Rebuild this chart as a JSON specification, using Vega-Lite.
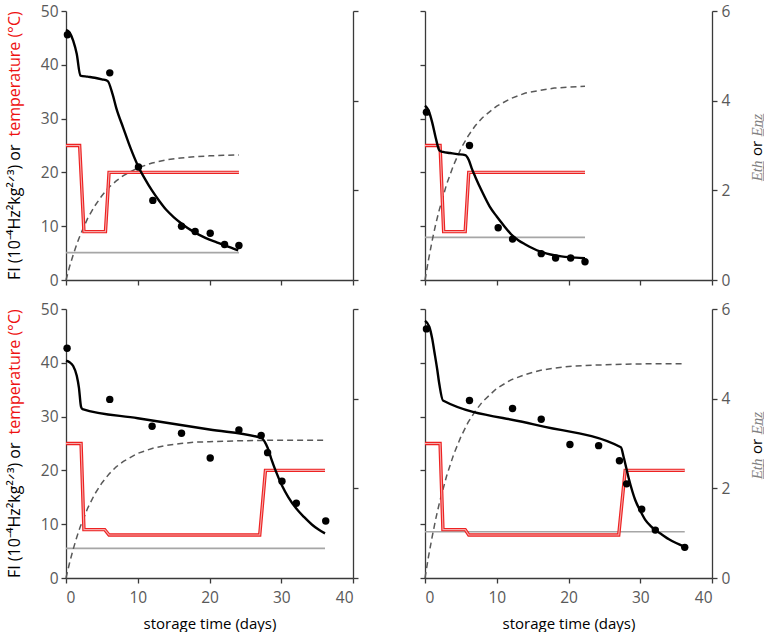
{
"$schema": "https://vega.github.io/schema/vega-lite/v6.json",
"padding": {"left": 5, "top": 4, "right": 0, "bottom": 0},
"config": {
  "font": "Open Sans",
  "view": {"stroke": null},
  "axis": {"grid": false, "domainColor": "#3a3a3a", "tickColor": "#3a3a3a", "domainWidth": 1.3, "tickWidth": 1.3, "tickSize": 5, "labelColor": "#595959", "labelFontSize": 15.5, "labelFont": "Open Sans", "titleFont": "Open Sans", "titleFontWeight": "normal", "titleColor": "#000000", "titleFontSize": 15}
},
"data": {"values": [
{"p":"A","s":"fi","d":0,"v":46.5},{"p":"A","s":"fi","d":0.5,"v":46},{"p":"A","s":"fi","d":1,"v":44.5},{"p":"A","s":"fi","d":1.5,"v":42},{"p":"A","s":"fi","d":2,"v":38},{"p":"A","s":"fi","d":3,"v":37.8},{"p":"A","s":"fi","d":4,"v":37.6},{"p":"A","s":"fi","d":5,"v":37.3},{"p":"A","s":"fi","d":5.8,"v":37},{"p":"A","s":"fi","d":6.5,"v":34.5},{"p":"A","s":"fi","d":7,"v":32},{"p":"A","s":"fi","d":8,"v":28.2},{"p":"A","s":"fi","d":9,"v":24.5},{"p":"A","s":"fi","d":10,"v":21.3},{"p":"A","s":"fi","d":11,"v":18.8},{"p":"A","s":"fi","d":12,"v":16.6},{"p":"A","s":"fi","d":13,"v":14.7},{"p":"A","s":"fi","d":14,"v":13},{"p":"A","s":"fi","d":15,"v":11.7},{"p":"A","s":"fi","d":16,"v":10.6},{"p":"A","s":"fi","d":17,"v":9.6},{"p":"A","s":"fi","d":18,"v":8.8},{"p":"A","s":"fi","d":19,"v":8.1},{"p":"A","s":"fi","d":20,"v":7.5},{"p":"A","s":"fi","d":21,"v":7},{"p":"A","s":"fi","d":22,"v":6.5},{"p":"A","s":"fi","d":23,"v":6},{"p":"A","s":"fi","d":24,"v":5.5},
{"p":"A","s":"obs","d":0.2,"v":45.6},{"p":"A","s":"obs","d":6.1,"v":38.5},{"p":"A","s":"obs","d":10.1,"v":21},{"p":"A","s":"obs","d":12.1,"v":14.8},{"p":"A","s":"obs","d":16.1,"v":10},{"p":"A","s":"obs","d":18,"v":9},{"p":"A","s":"obs","d":20.1,"v":8.7},{"p":"A","s":"obs","d":22.1,"v":6.6},{"p":"A","s":"obs","d":24.1,"v":6.4},
{"p":"A","s":"temp","d":0,"v":25},{"p":"A","s":"temp","d":1.9,"v":25},{"p":"A","s":"temp","d":2.5,"v":9},{"p":"A","s":"temp","d":5.5,"v":9},{"p":"A","s":"temp","d":6,"v":20},{"p":"A","s":"temp","d":24.1,"v":20},
{"p":"A","s":"eth","d":0,"v":0.61},{"p":"A","s":"eth","d":24.1,"v":0.61},
{"p":"A","s":"enz","d":0,"v":0},{"p":"A","s":"enz","d":0.5,"v":0.3},{"p":"A","s":"enz","d":1,"v":0.56},{"p":"A","s":"enz","d":1.5,"v":0.8},{"p":"A","s":"enz","d":2,"v":1.01},{"p":"A","s":"enz","d":3,"v":1.37},{"p":"A","s":"enz","d":4,"v":1.65},{"p":"A","s":"enz","d":5,"v":1.88},{"p":"A","s":"enz","d":6,"v":2.07},{"p":"A","s":"enz","d":7,"v":2.21},{"p":"A","s":"enz","d":8,"v":2.33},{"p":"A","s":"enz","d":10,"v":2.5},{"p":"A","s":"enz","d":12,"v":2.61},{"p":"A","s":"enz","d":14,"v":2.68},{"p":"A","s":"enz","d":16,"v":2.72},{"p":"A","s":"enz","d":18,"v":2.75},{"p":"A","s":"enz","d":20,"v":2.77},{"p":"A","s":"enz","d":22,"v":2.78},{"p":"A","s":"enz","d":24.1,"v":2.79},
{"p":"B","s":"fi","d":0,"v":32.4},{"p":"B","s":"fi","d":0.5,"v":31.5},{"p":"B","s":"fi","d":1,"v":29.3},{"p":"B","s":"fi","d":1.5,"v":26.4},{"p":"B","s":"fi","d":2,"v":24.1},{"p":"B","s":"fi","d":2.5,"v":23.8},{"p":"B","s":"fi","d":3.5,"v":23.6},{"p":"B","s":"fi","d":4.5,"v":23.4},{"p":"B","s":"fi","d":5.6,"v":23.2},{"p":"B","s":"fi","d":6.1,"v":22.3},{"p":"B","s":"fi","d":6.5,"v":20.8},{"p":"B","s":"fi","d":7,"v":19.2},{"p":"B","s":"fi","d":8,"v":16.3},{"p":"B","s":"fi","d":9,"v":13.7},{"p":"B","s":"fi","d":10,"v":11.8},{"p":"B","s":"fi","d":11,"v":10.1},{"p":"B","s":"fi","d":12,"v":8.5},{"p":"B","s":"fi","d":13,"v":7.4},{"p":"B","s":"fi","d":14,"v":6.6},{"p":"B","s":"fi","d":15,"v":5.9},{"p":"B","s":"fi","d":16,"v":5.3},{"p":"B","s":"fi","d":17,"v":4.9},{"p":"B","s":"fi","d":18,"v":4.6},{"p":"B","s":"fi","d":19,"v":4.4},{"p":"B","s":"fi","d":20,"v":4.25},{"p":"B","s":"fi","d":21,"v":4.15},{"p":"B","s":"fi","d":22.3,"v":4.05},
{"p":"B","s":"obs","d":0.2,"v":31.2},{"p":"B","s":"obs","d":6.2,"v":25},{"p":"B","s":"obs","d":10.2,"v":9.7},{"p":"B","s":"obs","d":12.2,"v":7.6},{"p":"B","s":"obs","d":16.2,"v":4.9},{"p":"B","s":"obs","d":18.2,"v":4.1},{"p":"B","s":"obs","d":20.3,"v":4.1},{"p":"B","s":"obs","d":22.3,"v":3.4},
{"p":"B","s":"temp","d":0,"v":25},{"p":"B","s":"temp","d":2.1,"v":25},{"p":"B","s":"temp","d":2.6,"v":9},{"p":"B","s":"temp","d":5.6,"v":9},{"p":"B","s":"temp","d":6.1,"v":20},{"p":"B","s":"temp","d":22.3,"v":20},
{"p":"B","s":"eth","d":0,"v":0.95},{"p":"B","s":"eth","d":22.3,"v":0.95},
{"p":"B","s":"enz","d":0,"v":0},{"p":"B","s":"enz","d":0.5,"v":0.46},{"p":"B","s":"enz","d":1,"v":0.88},{"p":"B","s":"enz","d":1.5,"v":1.25},{"p":"B","s":"enz","d":2,"v":1.57},{"p":"B","s":"enz","d":3,"v":2.13},{"p":"B","s":"enz","d":4,"v":2.57},{"p":"B","s":"enz","d":5,"v":2.93},{"p":"B","s":"enz","d":6,"v":3.21},{"p":"B","s":"enz","d":7,"v":3.44},{"p":"B","s":"enz","d":8,"v":3.62},{"p":"B","s":"enz","d":10,"v":3.88},{"p":"B","s":"enz","d":12,"v":4.05},{"p":"B","s":"enz","d":14,"v":4.17},{"p":"B","s":"enz","d":16,"v":4.23},{"p":"B","s":"enz","d":18,"v":4.28},{"p":"B","s":"enz","d":20,"v":4.3},{"p":"B","s":"enz","d":22.3,"v":4.32},
{"p":"C","s":"fi","d":0,"v":40.4},{"p":"C","s":"fi","d":0.5,"v":40.1},{"p":"C","s":"fi","d":1,"v":39.4},{"p":"C","s":"fi","d":1.5,"v":37.6},{"p":"C","s":"fi","d":1.8,"v":35.4},{"p":"C","s":"fi","d":2.1,"v":31.8},{"p":"C","s":"fi","d":2.3,"v":31.4},{"p":"C","s":"fi","d":10,"v":29.7},{"p":"C","s":"fi","d":20,"v":27.6},{"p":"C","s":"fi","d":27.3,"v":26},{"p":"C","s":"fi","d":27.7,"v":25.3},{"p":"C","s":"fi","d":28.1,"v":24.2},{"p":"C","s":"fi","d":28.6,"v":22.2},{"p":"C","s":"fi","d":29.2,"v":20},{"p":"C","s":"fi","d":30.1,"v":17.2},{"p":"C","s":"fi","d":31,"v":15},{"p":"C","s":"fi","d":32.1,"v":12.9},{"p":"C","s":"fi","d":33.2,"v":11.3},{"p":"C","s":"fi","d":34.3,"v":9.9},{"p":"C","s":"fi","d":35.2,"v":9},{"p":"C","s":"fi","d":36.1,"v":8.3},
{"p":"C","s":"obs","d":0.15,"v":42.7},{"p":"C","s":"obs","d":6.1,"v":33.2},{"p":"C","s":"obs","d":12,"v":28.2},{"p":"C","s":"obs","d":16.1,"v":26.9},{"p":"C","s":"obs","d":20.1,"v":22.3},{"p":"C","s":"obs","d":24.1,"v":27.5},{"p":"C","s":"obs","d":27.2,"v":26.5},{"p":"C","s":"obs","d":28.1,"v":23.3},{"p":"C","s":"obs","d":30.1,"v":18},{"p":"C","s":"obs","d":32.1,"v":13.9},{"p":"C","s":"obs","d":36.2,"v":10.6},
{"p":"C","s":"temp","d":0,"v":25},{"p":"C","s":"temp","d":2.1,"v":25},{"p":"C","s":"temp","d":2.5,"v":9},{"p":"C","s":"temp","d":5.4,"v":9},{"p":"C","s":"temp","d":6,"v":8},{"p":"C","s":"temp","d":27,"v":8},{"p":"C","s":"temp","d":27.8,"v":20},{"p":"C","s":"temp","d":36.1,"v":20},
{"p":"C","s":"eth","d":0,"v":0.66},{"p":"C","s":"eth","d":36.1,"v":0.66},
{"p":"C","s":"enz","d":0,"v":0},{"p":"C","s":"enz","d":0.5,"v":0.34},{"p":"C","s":"enz","d":1,"v":0.64},{"p":"C","s":"enz","d":1.5,"v":0.91},{"p":"C","s":"enz","d":2,"v":1.15},{"p":"C","s":"enz","d":3,"v":1.55},{"p":"C","s":"enz","d":4,"v":1.87},{"p":"C","s":"enz","d":5,"v":2.12},{"p":"C","s":"enz","d":6,"v":2.32},{"p":"C","s":"enz","d":7,"v":2.48},{"p":"C","s":"enz","d":8,"v":2.6},{"p":"C","s":"enz","d":10,"v":2.78},{"p":"C","s":"enz","d":12,"v":2.89},{"p":"C","s":"enz","d":14,"v":2.96},{"p":"C","s":"enz","d":16,"v":3},{"p":"C","s":"enz","d":18,"v":3.03},{"p":"C","s":"enz","d":20,"v":3.04},{"p":"C","s":"enz","d":24,"v":3.06},{"p":"C","s":"enz","d":28,"v":3.07},{"p":"C","s":"enz","d":36.1,"v":3.07},
{"p":"D","s":"fi","d":0,"v":47.8},{"p":"D","s":"fi","d":0.6,"v":46.7},{"p":"D","s":"fi","d":1,"v":44.5},{"p":"D","s":"fi","d":1.3,"v":42.1},{"p":"D","s":"fi","d":1.7,"v":38.8},{"p":"D","s":"fi","d":2,"v":36},{"p":"D","s":"fi","d":2.5,"v":33},{"p":"D","s":"fi","d":15,"v":28.6},{"p":"D","s":"fi","d":27.3,"v":24.3},{"p":"D","s":"fi","d":27.7,"v":22.4},{"p":"D","s":"fi","d":28.4,"v":18.5},{"p":"D","s":"fi","d":29.3,"v":14.5},{"p":"D","s":"fi","d":30,"v":12.5},{"p":"D","s":"fi","d":30.7,"v":10.8},{"p":"D","s":"fi","d":31.5,"v":9.6},{"p":"D","s":"fi","d":32.1,"v":8.9},{"p":"D","s":"fi","d":33,"v":8.1},{"p":"D","s":"fi","d":34,"v":7.2},{"p":"D","s":"fi","d":35,"v":6.5},{"p":"D","s":"fi","d":36.2,"v":5.8},
{"p":"D","s":"obs","d":0.2,"v":46.3},{"p":"D","s":"obs","d":6.2,"v":33},{"p":"D","s":"obs","d":12.2,"v":31.5},{"p":"D","s":"obs","d":16.2,"v":29.5},{"p":"D","s":"obs","d":20.2,"v":24.8},{"p":"D","s":"obs","d":24.2,"v":24.6},{"p":"D","s":"obs","d":27.1,"v":21.8},{"p":"D","s":"obs","d":28.1,"v":17.5},{"p":"D","s":"obs","d":30.2,"v":12.8},{"p":"D","s":"obs","d":32.1,"v":8.9},{"p":"D","s":"obs","d":36.2,"v":5.7},
{"p":"D","s":"temp","d":0,"v":25},{"p":"D","s":"temp","d":2.1,"v":25},{"p":"D","s":"temp","d":2.5,"v":9},{"p":"D","s":"temp","d":5.6,"v":9},{"p":"D","s":"temp","d":6.1,"v":8},{"p":"D","s":"temp","d":27,"v":8},{"p":"D","s":"temp","d":27.9,"v":20},{"p":"D","s":"temp","d":36.2,"v":20},
{"p":"D","s":"eth","d":0,"v":1.03},{"p":"D","s":"eth","d":36.2,"v":1.03},
{"p":"D","s":"enz","d":0,"v":0},{"p":"D","s":"enz","d":0.5,"v":0.49},{"p":"D","s":"enz","d":1,"v":0.92},{"p":"D","s":"enz","d":1.5,"v":1.32},{"p":"D","s":"enz","d":2,"v":1.67},{"p":"D","s":"enz","d":3,"v":2.27},{"p":"D","s":"enz","d":4,"v":2.76},{"p":"D","s":"enz","d":5,"v":3.15},{"p":"D","s":"enz","d":6,"v":3.47},{"p":"D","s":"enz","d":7,"v":3.72},{"p":"D","s":"enz","d":8,"v":3.93},{"p":"D","s":"enz","d":10,"v":4.23},{"p":"D","s":"enz","d":12,"v":4.42},{"p":"D","s":"enz","d":14,"v":4.54},{"p":"D","s":"enz","d":16,"v":4.63},{"p":"D","s":"enz","d":18,"v":4.68},{"p":"D","s":"enz","d":20,"v":4.72},{"p":"D","s":"enz","d":24,"v":4.75},{"p":"D","s":"enz","d":28,"v":4.77},{"p":"D","s":"enz","d":32,"v":4.78},{"p":"D","s":"enz","d":36.2,"v":4.78}
]},
"columns": 2,
"bounds": "flush",
"spacing": {"row": 29, "column": 72},
"concat": [
{
 "width": 287, "height": 269,
 "resolve": {"scale": {"y": "independent"}},
 "layer": [
  {"transform": [{"filter": "datum.p=='A' && datum.s=='eth'"}], "mark": {"type": "line", "color": "#a6a6a6", "strokeWidth": 1.6},
   "encoding": {"x": {"field": "d", "type": "quantitative", "scale": {"domain": [0, 40], "nice": false}, "axis": {"values": [0, 10, 20, 30, 40], "labels": false, "title": null}},
     "y": {"field": "v", "type": "quantitative", "scale": {"domain": [0, 6], "nice": false}, "axis": {"orient": "right", "values": [0, 2, 4, 6], "labels": false, "title": null}}}},
  {"transform": [{"filter": "datum.p=='A' && datum.s=='enz'"}], "mark": {"type": "line", "color": "#595959", "strokeWidth": 1.5, "strokeDash": [6, 4]},
   "encoding": {"x": {"field": "d", "type": "quantitative", "scale": {"domain": [0, 40], "nice": false}},
     "y": {"field": "v", "type": "quantitative", "scale": {"domain": [0, 6], "nice": false}, "axis": null}}},
  {"transform": [{"filter": "datum.p=='A' && datum.s=='temp'"}], "mark": {"type": "line", "color": "#ee2222", "strokeWidth": 3.4},
   "encoding": {"x": {"field": "d", "type": "quantitative", "scale": {"domain": [0, 40], "nice": false}},
     "y": {"field": "v", "type": "quantitative", "scale": {"domain": [0, 50], "nice": false}, "axis": {"orient": "left", "domain": false, "ticks": false, "labels": false, "title": "temperature (°C)", "titleColor": "#ee1111", "titleFontSize": 16, "titleAngle": 270, "titleAlign": "left", "titleBaseline": "middle", "titleX": -52, "titleY": 125}}}},
  {"transform": [{"filter": "datum.p=='A' && datum.s=='temp'"}], "mark": {"type": "line", "color": "#f3aaaa", "strokeWidth": 1.1},
   "encoding": {"x": {"field": "d", "type": "quantitative", "scale": {"domain": [0, 40], "nice": false}},
     "y": {"field": "v", "type": "quantitative", "scale": {"domain": [0, 50], "nice": false}, "axis": null}}},
  {"transform": [{"filter": "datum.p=='A' && datum.s=='fi'"}], "mark": {"type": "line", "color": "#000000", "strokeWidth": 2.4, "interpolate": "monotone"},
   "encoding": {"x": {"field": "d", "type": "quantitative", "scale": {"domain": [0, 40], "nice": false}},
     "y": {"field": "v", "type": "quantitative", "scale": {"domain": [0, 50], "nice": false}, "axis": {"orient": "left", "values": [0, 10, 20, 30, 40, 50], "labelPadding": 3, "title": "FI (10⁻⁴Hz²kg²ᐟ³) or", "titleFontSize": 16, "titleAngle": 270, "titleAlign": "right", "titleBaseline": "middle", "titleX": -52, "titleY": 133}}}},
  {"transform": [{"filter": "datum.p=='A' && datum.s=='obs'"}], "mark": {"type": "point", "filled": true, "color": "#000000", "opacity": 1, "size": 55},
   "encoding": {"x": {"field": "d", "type": "quantitative", "scale": {"domain": [0, 40], "nice": false}},
     "y": {"field": "v", "type": "quantitative", "scale": {"domain": [0, 50], "nice": false}, "axis": null}}}
 ]
},
{
 "width": 287, "height": 269,
 "resolve": {"scale": {"y": "independent"}},
 "layer": [
  {"transform": [{"filter": "datum.p=='B' && datum.s=='eth'"}], "mark": {"type": "line", "color": "#a6a6a6", "strokeWidth": 1.6},
   "encoding": {"x": {"field": "d", "type": "quantitative", "scale": {"domain": [0, 40], "nice": false}, "axis": {"values": [0, 10, 20, 30, 40], "labels": false, "title": null}},
     "y": {"field": "v", "type": "quantitative", "scale": {"domain": [0, 6], "nice": false}, "axis": {"orient": "right", "values": [0, 2, 4, 6], "labelPadding": 4, "title": "E\u0332t\u0332h\u0332", "titleColor": "#808080", "titleFontStyle": "italic", "titleAngle": 270, "titleAlign": "right", "titleBaseline": "middle", "titleX": 44, "titleY": 149}}}},
  {"transform": [{"filter": "datum.p=='B' && datum.s=='enz'"}], "mark": {"type": "line", "color": "#595959", "strokeWidth": 1.5, "strokeDash": [6, 4]},
   "encoding": {"x": {"field": "d", "type": "quantitative", "scale": {"domain": [0, 40], "nice": false}},
     "y": {"field": "v", "type": "quantitative", "scale": {"domain": [0, 6], "nice": false}, "axis": null}}},
  {"transform": [{"filter": "datum.p=='B' && datum.s=='temp'"}], "mark": {"type": "line", "color": "#ee2222", "strokeWidth": 3.4},
   "encoding": {"x": {"field": "d", "type": "quantitative", "scale": {"domain": [0, 40], "nice": false}},
     "y": {"field": "v", "type": "quantitative", "scale": {"domain": [0, 50], "nice": false}, "axis": null}}},
  {"transform": [{"filter": "datum.p=='B' && datum.s=='temp'"}], "mark": {"type": "line", "color": "#f3aaaa", "strokeWidth": 1.1},
   "encoding": {"x": {"field": "d", "type": "quantitative", "scale": {"domain": [0, 40], "nice": false}},
     "y": {"field": "v", "type": "quantitative", "scale": {"domain": [0, 50], "nice": false}, "axis": {"orient": "right", "domain": false, "ticks": false, "labels": false, "title": "E\u0332n\u0332z\u0332", "titleColor": "#808080", "titleFontStyle": "italic", "titleAngle": 270, "titleAlign": "left", "titleBaseline": "middle", "titleX": 44, "titleY": 125}}}},
  {"transform": [{"filter": "datum.p=='B' && datum.s=='fi'"}], "mark": {"type": "line", "color": "#000000", "strokeWidth": 2.4, "interpolate": "monotone"},
   "encoding": {"x": {"field": "d", "type": "quantitative", "scale": {"domain": [0, 40], "nice": false}},
     "y": {"field": "v", "type": "quantitative", "scale": {"domain": [0, 50], "nice": false}, "axis": {"orient": "left", "values": [0, 10, 20, 30, 40, 50], "labels": false, "title": null}}}},
  {"transform": [{"filter": "datum.p=='B' && datum.s=='obs'"}], "mark": {"type": "point", "filled": true, "color": "#000000", "opacity": 1, "size": 55},
   "encoding": {"x": {"field": "d", "type": "quantitative", "scale": {"domain": [0, 40], "nice": false}},
     "y": {"field": "v", "type": "quantitative", "scale": {"domain": [0, 50], "nice": false}, "axis": {"orient": "right", "domain": false, "ticks": false, "labels": false, "title": "or", "titleColor": "#000000", "titleAngle": 270, "titleAlign": "center", "titleBaseline": "middle", "titleX": 44, "titleY": 137}}}}
 ]
},
{
 "width": 287, "height": 269,
 "resolve": {"scale": {"y": "independent"}},
 "layer": [
  {"transform": [{"filter": "datum.p=='C' && datum.s=='eth'"}], "mark": {"type": "line", "color": "#a6a6a6", "strokeWidth": 1.6},
   "encoding": {"x": {"field": "d", "type": "quantitative", "scale": {"domain": [0, 40], "nice": false}, "axis": {"values": [0, 10, 20, 30, 40], "labelPadding": 7, "title": "storage time (days)", "titlePadding": 11}},
     "y": {"field": "v", "type": "quantitative", "scale": {"domain": [0, 6], "nice": false}, "axis": {"orient": "right", "values": [0, 2, 4, 6], "labels": false, "title": null}}}},
  {"transform": [{"filter": "datum.p=='C' && datum.s=='enz'"}], "mark": {"type": "line", "color": "#595959", "strokeWidth": 1.5, "strokeDash": [6, 4]},
   "encoding": {"x": {"field": "d", "type": "quantitative", "scale": {"domain": [0, 40], "nice": false}},
     "y": {"field": "v", "type": "quantitative", "scale": {"domain": [0, 6], "nice": false}, "axis": null}}},
  {"transform": [{"filter": "datum.p=='C' && datum.s=='temp'"}], "mark": {"type": "line", "color": "#ee2222", "strokeWidth": 3.4},
   "encoding": {"x": {"field": "d", "type": "quantitative", "scale": {"domain": [0, 40], "nice": false}},
     "y": {"field": "v", "type": "quantitative", "scale": {"domain": [0, 50], "nice": false}, "axis": {"orient": "left", "domain": false, "ticks": false, "labels": false, "title": "temperature (°C)", "titleColor": "#ee1111", "titleFontSize": 16, "titleAngle": 270, "titleAlign": "left", "titleBaseline": "middle", "titleX": -52, "titleY": 125}}}},
  {"transform": [{"filter": "datum.p=='C' && datum.s=='temp'"}], "mark": {"type": "line", "color": "#f3aaaa", "strokeWidth": 1.1},
   "encoding": {"x": {"field": "d", "type": "quantitative", "scale": {"domain": [0, 40], "nice": false}},
     "y": {"field": "v", "type": "quantitative", "scale": {"domain": [0, 50], "nice": false}, "axis": null}}},
  {"transform": [{"filter": "datum.p=='C' && datum.s=='fi'"}], "mark": {"type": "line", "color": "#000000", "strokeWidth": 2.4, "interpolate": "monotone"},
   "encoding": {"x": {"field": "d", "type": "quantitative", "scale": {"domain": [0, 40], "nice": false}},
     "y": {"field": "v", "type": "quantitative", "scale": {"domain": [0, 50], "nice": false}, "axis": {"orient": "left", "values": [0, 10, 20, 30, 40, 50], "labelPadding": 3, "title": "FI (10⁻⁴Hz²kg²ᐟ³) or", "titleFontSize": 16, "titleAngle": 270, "titleAlign": "right", "titleBaseline": "middle", "titleX": -52, "titleY": 133}}}},
  {"transform": [{"filter": "datum.p=='C' && datum.s=='obs'"}], "mark": {"type": "point", "filled": true, "color": "#000000", "opacity": 1, "size": 55},
   "encoding": {"x": {"field": "d", "type": "quantitative", "scale": {"domain": [0, 40], "nice": false}},
     "y": {"field": "v", "type": "quantitative", "scale": {"domain": [0, 50], "nice": false}, "axis": null}}}
 ]
},
{
 "width": 287, "height": 269,
 "resolve": {"scale": {"y": "independent"}},
 "layer": [
  {"transform": [{"filter": "datum.p=='D' && datum.s=='eth'"}], "mark": {"type": "line", "color": "#a6a6a6", "strokeWidth": 1.6},
   "encoding": {"x": {"field": "d", "type": "quantitative", "scale": {"domain": [0, 40], "nice": false}, "axis": {"values": [0, 10, 20, 30, 40], "labelPadding": 7, "title": "storage time (days)", "titlePadding": 11}},
     "y": {"field": "v", "type": "quantitative", "scale": {"domain": [0, 6], "nice": false}, "axis": {"orient": "right", "values": [0, 2, 4, 6], "labelPadding": 4, "title": "E\u0332t\u0332h\u0332", "titleColor": "#808080", "titleFontStyle": "italic", "titleAngle": 270, "titleAlign": "right", "titleBaseline": "middle", "titleX": 44, "titleY": 149}}}},
  {"transform": [{"filter": "datum.p=='D' && datum.s=='enz'"}], "mark": {"type": "line", "color": "#595959", "strokeWidth": 1.5, "strokeDash": [6, 4]},
   "encoding": {"x": {"field": "d", "type": "quantitative", "scale": {"domain": [0, 40], "nice": false}},
     "y": {"field": "v", "type": "quantitative", "scale": {"domain": [0, 6], "nice": false}, "axis": null}}},
  {"transform": [{"filter": "datum.p=='D' && datum.s=='temp'"}], "mark": {"type": "line", "color": "#ee2222", "strokeWidth": 3.4},
   "encoding": {"x": {"field": "d", "type": "quantitative", "scale": {"domain": [0, 40], "nice": false}},
     "y": {"field": "v", "type": "quantitative", "scale": {"domain": [0, 50], "nice": false}, "axis": null}}},
  {"transform": [{"filter": "datum.p=='D' && datum.s=='temp'"}], "mark": {"type": "line", "color": "#f3aaaa", "strokeWidth": 1.1},
   "encoding": {"x": {"field": "d", "type": "quantitative", "scale": {"domain": [0, 40], "nice": false}},
     "y": {"field": "v", "type": "quantitative", "scale": {"domain": [0, 50], "nice": false}, "axis": {"orient": "right", "domain": false, "ticks": false, "labels": false, "title": "E\u0332n\u0332z\u0332", "titleColor": "#808080", "titleFontStyle": "italic", "titleAngle": 270, "titleAlign": "left", "titleBaseline": "middle", "titleX": 44, "titleY": 125}}}},
  {"transform": [{"filter": "datum.p=='D' && datum.s=='fi'"}], "mark": {"type": "line", "color": "#000000", "strokeWidth": 2.4, "interpolate": "monotone"},
   "encoding": {"x": {"field": "d", "type": "quantitative", "scale": {"domain": [0, 40], "nice": false}},
     "y": {"field": "v", "type": "quantitative", "scale": {"domain": [0, 50], "nice": false}, "axis": {"orient": "left", "values": [0, 10, 20, 30, 40, 50], "labels": false, "title": null}}}},
  {"transform": [{"filter": "datum.p=='D' && datum.s=='obs'"}], "mark": {"type": "point", "filled": true, "color": "#000000", "opacity": 1, "size": 55},
   "encoding": {"x": {"field": "d", "type": "quantitative", "scale": {"domain": [0, 40], "nice": false}},
     "y": {"field": "v", "type": "quantitative", "scale": {"domain": [0, 50], "nice": false}, "axis": {"orient": "right", "domain": false, "ticks": false, "labels": false, "title": "or", "titleColor": "#000000", "titleAngle": 270, "titleAlign": "center", "titleBaseline": "middle", "titleX": 44, "titleY": 137}}}}
 ]
}
]
}
